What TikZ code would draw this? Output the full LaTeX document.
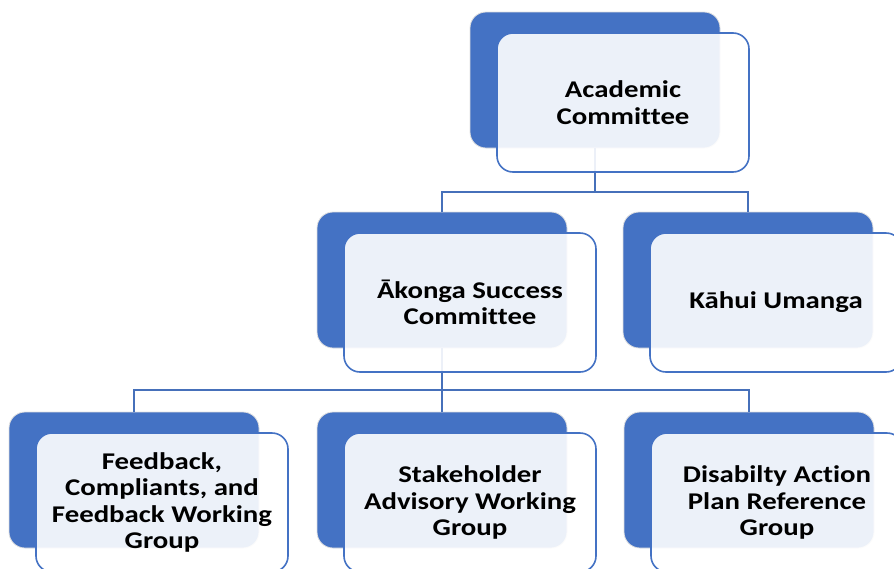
\documentclass[tikz,border=0pt]{standalone}
\usepackage{fontspec}
\setmainfont{Carlito}[FakeStretch=1.2, RawFeature={-liga,-clig,-calt}]
\definecolor{accent}{HTML}{4472C4}
\definecolor{linkblue}{HTML}{4670BA}
\begin{document}
\begin{tikzpicture}[x=1pt,y=-1pt,
  backbox/.style={rectangle, rounded corners=16pt, fill=accent, draw=black!12,
    line width=0.8pt, minimum width=250pt, minimum height=136pt, inner sep=0pt},
  frontbox/.style={rectangle, rounded corners=16pt, fill=white, fill opacity=0.9,
    draw=accent, draw opacity=1, line width=1.6pt, minimum width=252pt,
    minimum height=139pt, inner sep=0pt},
  label/.style={align=center, font=\fontsize{24}{26.5}\selectfont\bfseries,
    text=black, text opacity=1},
  conn/.style={draw=linkblue, line width=1.8pt}]
\useasboundingbox (0,0) rectangle (894,568);
\clip (0,0) rectangle (894,568);

% bus lines for each level
\coordinate (bus1) at (595,192);
\coordinate (bus2) at (442,390);

% back (filled) boxes
\node[backbox] (acadB) at (595,80) {};
\node[backbox] (akB)   at (442,280) {};
\node[backbox] (khB)   at (748,280) {};
\node[backbox] (fbB)   at (134,480) {};
\node[backbox] (shB)   at (442,480) {};
\node[backbox] (daB)   at (749,480) {};

% connectors between levels
\draw[conn] (acadB.south) -- (acadB.south |- bus1) -| (akB.north);
\draw[conn] (acadB.south |- bus1) -| (khB.north);
\draw[conn] (akB.south) -- (akB.south |- bus2) -| (fbB.north);
\draw[conn] (akB.south |- bus2) -- (shB.north);
\draw[conn] (akB.south |- bus2) -| (daB.north);

% front (outlined) boxes, offset down and right
\foreach \b/\f in {acadB/acadF, akB/akF, khB/khF, fbB/fbF, shB/shF, daB/daF}
  \node[frontbox] (\f) at ([shift={(28,22.5)}]\b.center) {};

% labels
\node[label] (acadT) at (acadF.center) {Academic\\Committee};
\node[label] (akT)   at (akF.center) {Ākonga Success\\Committee};
\node[label] (khT)   at (khF.center) {Kāhui Umanga};
\node[label] (fbT)   at (fbF.center) {Feedback,\\Compliants, and\\Feedback Working\\Group};
\node[label] (shT)   at (shF.center) {Stakeholder\\Advisory Working\\Group};
\node[label] (daT)   at (daF.center) {Disabilty Action\\Plan Reference\\Group};
\end{tikzpicture}
\end{document}
